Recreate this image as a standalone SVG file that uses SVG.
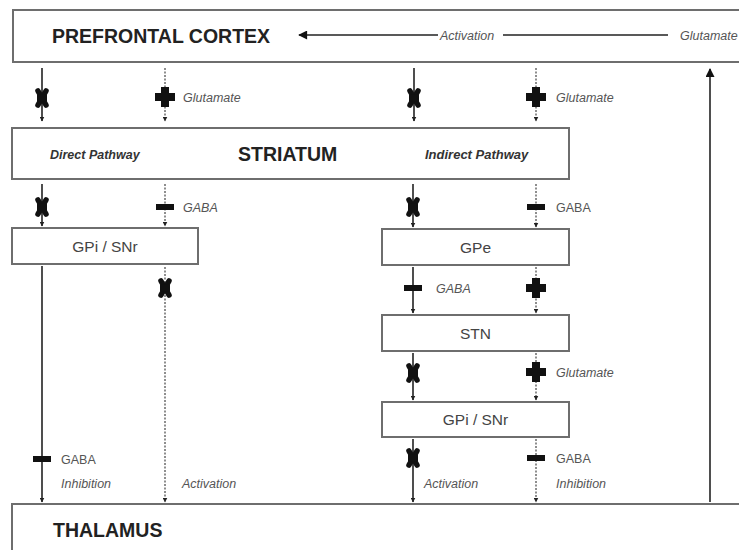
<svg xmlns="http://www.w3.org/2000/svg" width="739" height="550" viewBox="0 0 739 550">
<style>
.box{fill:#fff;stroke:#6e6e6e;stroke-width:2}
.title{font-family:"Liberation Sans",Arial,sans-serif;font-weight:bold;font-size:19.5px;fill:#222}
.sub{font-family:"Liberation Sans",Arial,sans-serif;font-weight:bold;font-style:italic;font-size:12.5px;fill:#333}
.name{font-family:"Liberation Sans",Arial,sans-serif;font-size:15.5px;fill:#444;text-anchor:middle}
.lbl{font-family:"Liberation Sans",Arial,sans-serif;font-style:italic;font-size:12.5px;fill:#555}
.up{font-style:normal}
.solid{stroke:#222;stroke-width:1.6;fill:none}
.dot{stroke:#444;stroke-width:1.2;stroke-dasharray:2 1.5;fill:none}
.mk{fill:#111}
.xm{stroke:#111;stroke-width:5.5;stroke-linecap:round;fill:none}
</style>
<defs>
<marker id="ah" viewBox="0 0 10 10" refX="9" refY="5" markerWidth="5" markerHeight="5" orient="auto" markerUnits="userSpaceOnUse"><path d="M0,0 L10,5 L0,10 Z" fill="#222"/></marker>
<marker id="big" viewBox="0 0 10 10" refX="9" refY="5" markerWidth="10" markerHeight="9" orient="auto" markerUnits="userSpaceOnUse"><path d="M0,0 L10,5 L0,10 Z" fill="#111"/></marker>
<g id="xmark"><path class="xm" d="M-4,-7 L4,7 M4,-7 L-4,7"/><rect x="-5" y="-3.5" width="10" height="7" fill="#111"/></g>
<g id="plus"><rect x="-10" y="-4" width="20" height="8" class="mk"/><rect x="-4" y="-10" width="8" height="20" class="mk"/></g>
<g id="minus"><rect x="-9" y="-3" width="18" height="6" class="mk"/></g>
</defs>

<g id="prefrontal"><rect class="box" x="13" y="10" width="760" height="52"/><text class="title" x="52" y="43">PREFRONTAL CORTEX</text></g>
<g id="striatum"><rect class="box" x="12" y="128" width="557" height="51"/><text class="sub" x="50" y="159">Direct Pathway</text><text class="title" x="238" y="161">STRIATUM</text><text class="sub" x="425" y="159" style="font-size:13px">Indirect Pathway</text></g>
<g id="gpi1"><rect class="box" x="12" y="228" width="186" height="36"/><text class="name" x="105" y="252">GPi / SNr</text></g>
<g id="gpe"><rect class="box" x="382" y="229" width="187" height="36"/><text class="name" x="475.5" y="253">GPe</text></g>
<g id="stn"><rect class="box" x="382" y="315" width="187" height="36"/><text class="name" x="475.5" y="339">STN</text></g>
<g id="gpi2"><rect class="box" x="382" y="402" width="187" height="35"/><text class="name" x="475.5" y="425">GPi / SNr</text></g>
<g id="thalamus"><rect class="box" x="12" y="504" width="760" height="60"/><text class="title" x="53" y="537">THALAMUS</text></g>

<g id="connectors">
<path class="solid" d="M438,35 L299,35" stroke-width="2" marker-end="url(#big)"/>
<path class="solid" d="M668,35 L503,35" stroke-width="2"/>
<text class="lbl" x="440" y="39.5">Activation</text>
<text class="lbl" x="680" y="39.5">Glutamate</text>
<path class="solid" d="M710,502 L710,69" stroke-width="2.6" marker-end="url(#big)"/>

<path class="solid" d="M42,68 L42,121" marker-end="url(#ah)"/><use href="#xmark" x="42" y="98"/>
<path class="dot" d="M165,68 L165,121" marker-end="url(#ah)"/><use href="#plus" x="165" y="97"/>
<text class="lbl" x="183" y="101.5">Glutamate</text>
<path class="solid" d="M414,68 L414,121" marker-end="url(#ah)"/><use href="#xmark" x="414" y="98"/>
<path class="dot" d="M536,68 L536,121" marker-end="url(#ah)"/><use href="#plus" x="536" y="97"/>
<text class="lbl" x="556" y="101.5">Glutamate</text>

<path class="solid" d="M42,184 L42,226" marker-end="url(#ah)"/><use href="#xmark" x="42" y="207"/>
<path class="dot" d="M165,184 L165,226" marker-end="url(#ah)"/><use href="#minus" x="165" y="207"/>
<text class="lbl" x="183" y="211.5">GABA</text>
<path class="solid" d="M413,184 L413,227" marker-end="url(#ah)"/><use href="#xmark" x="413" y="207"/>
<path class="dot" d="M536,184 L536,227" marker-end="url(#ah)"/><use href="#minus" x="536" y="207"/>
<text class="lbl up" x="556" y="211.5">GABA</text>

<path class="solid" d="M42,266 L42,502" marker-end="url(#ah)"/><use href="#minus" x="42" y="459"/>
<text class="lbl up" x="61" y="463.5">GABA</text>
<text class="lbl" x="61" y="487.5">Inhibition</text>
<path class="dot" d="M165,267 L165,502" marker-end="url(#ah)"/><use href="#xmark" x="165" y="288"/>
<text class="lbl" x="182" y="487.5">Activation</text>

<path class="solid" d="M413,267 L413,313" marker-end="url(#ah)"/><use href="#minus" x="413" y="288"/>
<text class="lbl" x="436" y="292.5">GABA</text>
<path class="dot" d="M536,267 L536,313" marker-end="url(#ah)"/><use href="#plus" x="536" y="288"/>

<path class="solid" d="M413,353 L413,400" marker-end="url(#ah)"/><use href="#xmark" x="413" y="373"/>
<path class="dot" d="M536,353 L536,400" marker-end="url(#ah)"/><use href="#plus" x="536" y="372"/>
<text class="lbl" x="556" y="376.5">Glutamate</text>

<path class="solid" d="M413,439 L413,502" marker-end="url(#ah)"/><use href="#xmark" x="413" y="458"/>
<text class="lbl" x="424" y="487.5">Activation</text>
<path class="dot" d="M536,439 L536,502" marker-end="url(#ah)"/><use href="#minus" x="536" y="458"/>
<text class="lbl up" x="556" y="462.5">GABA</text>
<text class="lbl" x="556" y="487.5">Inhibition</text>
</g>
</svg>
